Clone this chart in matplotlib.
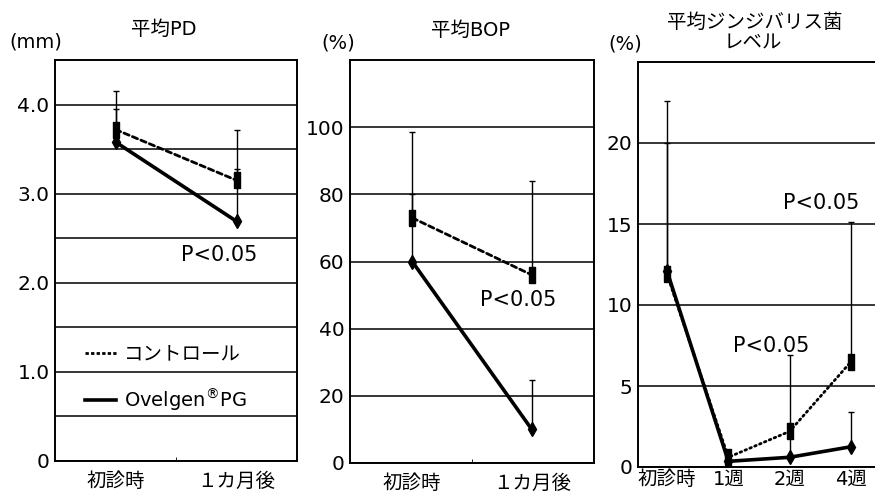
import numpy as np
import matplotlib
matplotlib.use('Agg')
import matplotlib.pyplot as plt
from matplotlib.lines import Line2D

plt.rcParams['font.family'] = ['DejaVu Sans', 'Noto Sans CJK JP']
plt.rcParams['axes.unicode_minus'] = False

W, H = 875, 493

# 平均PD (mm)
pd_labels = ['初診時', '１カ月後']
pd_control = [3.72, 3.15]
pd_control_top = [4.15, 3.72]
pd_ovelgen = [3.58, 2.69]
pd_ovelgen_top = [3.95, 3.28]

# 平均BOP (%)
bop_labels = ['初診時', '１カ月後']
bop_control = [73, 56]
bop_control_top = [98.7, 84]
bop_ovelgen = [60, 10]
bop_ovelgen_top = [80, 24.6]

# 平均ジンジバリス菌レベル (%)
pg_labels = ['初診時', '1週', '2週', '4週']
pg_control = [11.9, 0.6, 2.2, 6.5]
pg_control_top = [22.6, 0.6, 6.9, 15.1]
pg_ovelgen = [12.1, 0.35, 0.6, 1.25]
pg_ovelgen_top = [20.0, 0.35, 1.8, 3.4]

CTRL_MARKER = [(-0.2, -0.5), (0.2, -0.5), (0.2, 0.5), (-0.2, 0.5), (-0.2, -0.5)]
DASHED = (0, (2.0, 1.3))
DOTTED = (0, (0.6, 1.3))
FS = 14.5


def px_axes(left, right, top, bottom):
    """Axes placed by pixel edges of the 875x493 canvas."""
    return fig.add_axes([left / W, 1 - bottom / H, (right - left) / W, (bottom - top) / H])


def draw_panel(ax, labels, control, control_top, ovelgen, ovelgen_top, xpad, ctrl_style=DASHED):
    x = np.arange(len(labels))
    c = np.array(control)
    o = np.array(ovelgen)
    ax.errorbar(x, c, yerr=[np.zeros_like(c), np.array(control_top) - c],
                fmt='none', ecolor='black', elinewidth=1.0, capsize=2, capthick=1.0, zorder=2)
    ax.errorbar(x, o, yerr=[np.zeros_like(o), np.array(ovelgen_top) - o],
                fmt='none', ecolor='black', elinewidth=1.0, capsize=2, capthick=1.0, zorder=2)
    ax.plot(x, c, color='black', linestyle=ctrl_style, linewidth=2.0,
            dash_capstyle='round', marker=CTRL_MARKER, markersize=11, zorder=3)
    ax.plot(x, o, color='black', linestyle='-', linewidth=2.6,
            marker='d', markersize=7, zorder=4)
    ax.set_xticks(x)
    ax.set_xticklabels(labels, fontsize=14)
    ax.tick_params(axis='x', length=0, pad=xpad)
    ax.tick_params(axis='y', length=0, pad=4, labelsize=FS)
    ax.grid(True, axis='y', which='both', color='black', linewidth=1.1)
    ax.set_axisbelow(True)
    for s in ax.spines.values():
        s.set_linewidth(1.4)


fig = plt.figure(figsize=(W / 100, H / 100), dpi=100)

# ---- panel 1
ax1 = px_axes(55, 297, 60, 461)
draw_panel(ax1, pd_labels, pd_control, pd_control_top, pd_ovelgen, pd_ovelgen_top, 8)
ax1.set_xlim(-0.5, 1.5)
ax1.set_ylim(0, 4.5)
ax1.set_yticks([0, 1, 2, 3, 4])
ax1.set_yticklabels(['0', '1.0', '2.0', '3.0', '4.0'])
ax1.set_yticks(np.arange(0.5, 4.5, 1.0), minor=True)
ax1.tick_params(axis='y', which='minor', length=0)
ax1.set_xticks([0.5], minor=True)
ax1.tick_params(axis='x', which='minor', direction='in', length=3)
ax1.text(0.545, 2.31, 'P<0.05', fontsize=15, va='center', ha='left')
handles = [Line2D([], [], color='black', linestyle=(0, (1.2, 0.8)), linewidth=2.0),
           Line2D([], [], color='black', linestyle='-', linewidth=2.6)]
ax1.legend(handles, ['コントロール', 'Ovelgen$^{\u00ae}$PG'], loc='upper left',
           bbox_to_anchor=(0.09, 0.31), frameon=False, fontsize=14,
           handlelength=1.6, handletextpad=0.45, labelspacing=1.2, borderaxespad=0)

# ---- panel 2
ax2 = px_axes(350, 594, 60, 463)
draw_panel(ax2, bop_labels, bop_control, bop_control_top, bop_ovelgen, bop_ovelgen_top, 8)
ax2.set_xlim(-0.52, 1.52)
ax2.set_ylim(0, 120)
ax2.set_yticks([0, 20, 40, 60, 80, 100])
ax2.set_xticks([0.5], minor=True)
ax2.tick_params(axis='x', which='minor', direction='in', length=3)
ax2.text(0.567, 48.5, 'P<0.05', fontsize=15, va='center', ha='left')

# ---- panel 3
ax3 = px_axes(638, 880, 62, 467)
draw_panel(ax3, pg_labels, pg_control, pg_control_top, pg_ovelgen, pg_ovelgen_top, 2, DOTTED)
ax3.set_xlim(-0.473, 3.473)
ax3.set_ylim(0, 25)
ax3.set_yticks([0, 5, 10, 15, 20])
ax3.spines['right'].set_visible(False)
ax3.text(1.89, 16.3, 'P<0.05', fontsize=15, va='center', ha='left')
ax3.text(1.08, 7.5, 'P<0.05', fontsize=15, va='center', ha='left')

# ---- titles and units
fig.text(164 / W, 1 - 29 / H, '平均PD', fontsize=14, ha='center', va='center')
fig.text(36 / W, 1 - 42 / H, '(mm)', fontsize=14, ha='center', va='center')
fig.text(471 / W, 1 - 30 / H, '平均BOP', fontsize=14, ha='center', va='center')
fig.text(338 / W, 1 - 43 / H, '(%)', fontsize=14, ha='center', va='center')
fig.text(755 / W, 1 - 22 / H, '平均ジンジバリス菌', fontsize=14, ha='center', va='center')
fig.text(753 / W, 1 - 43 / H, 'レベル', fontsize=14, ha='center', va='center')
fig.text(625 / W, 1 - 44 / H, '(%)', fontsize=14, ha='center', va='center')

fig.savefig('out.png', dpi=100, facecolor='white')
